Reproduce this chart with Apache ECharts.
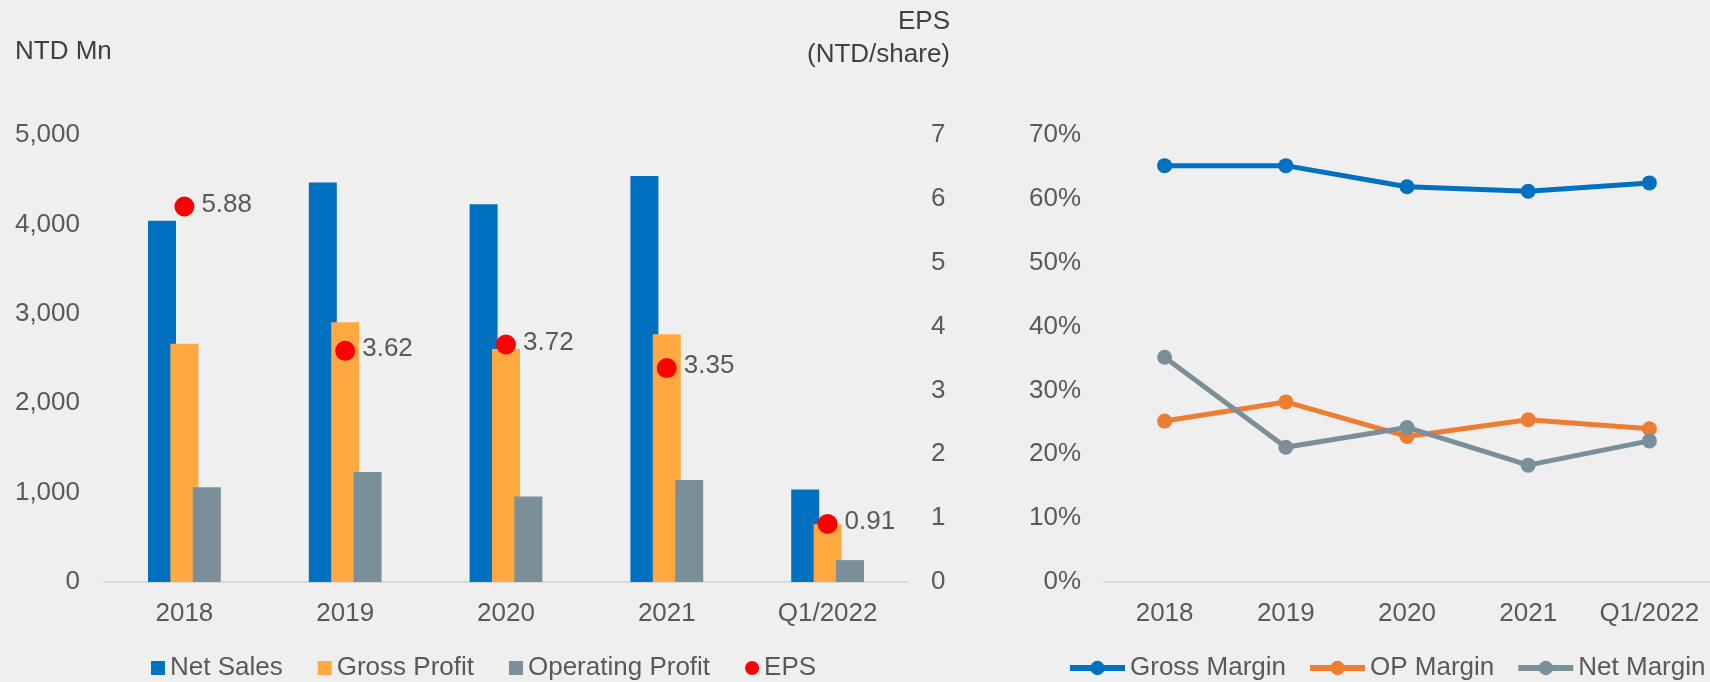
<!DOCTYPE html>
<html>
<head>
<meta charset="utf-8">
<script src="https://cdn.jsdelivr.net/npm/echarts@6/dist/echarts.min.js"></script>
<style>
  html, body { margin: 0; padding: 0; background: #efefef; }
  #main { width: 1710px; height: 682px; }
</style>
</head>
<body>
<div id="main"></div>
<script>
var categories = ['2018', '2019', '2020', '2021', 'Q1/2022'];

// NTD Mn
var netSales = [4040, 4470, 4225, 4540, 1035];
var grossProfit = [2665, 2905, 2605, 2770, 645];
var operatingProfit = [1060, 1230, 955, 1140, 245];
// NTD/share
var eps = [5.88, 3.62, 3.72, 3.35, 0.91];

// margins, %
var grossMargin = [65.2, 65.2, 61.9, 61.2, 62.5];
var opMargin = [25.2, 28.2, 22.8, 25.4, 24.0];
var netMargin = [35.2, 21.1, 24.2, 18.3, 22.1];

var leftTicks = { min: 0, max: 5000, step: 1000 };
var epsTicks = { min: 0, max: 7, step: 1 };
var pctTicks = { min: 0, max: 70, step: 10 };

var FONT = '"Liberation Sans", Arial, sans-serif';
var LABEL = '#595959';
var TITLE = '#404040';

var chartDom = document.getElementById('main');
var myChart = echarts.init(chartDom);
var option;

var axisLabel = { color: LABEL, fontSize: 26, fontFamily: FONT };

option = {
  backgroundColor: '#efefef',
  textStyle: { fontFamily: FONT },
  animation: false,
  grid: [
    { left: 104, right: 802, top: 135, bottom: 100 },
    { left: 1104, right: -9, top: 135, bottom: 100 }
  ],
  graphic: [
    { type: 'text', x: 15, y: 52, style: { text: 'NTD Mn', fill: TITLE, font: '26px ' + FONT, align: 'left', verticalAlign: 'middle' } },
    { type: 'text', x: 950, y: 22, style: { text: 'EPS', fill: TITLE, font: '26px ' + FONT, align: 'right', verticalAlign: 'middle' } },
    { type: 'text', x: 950, y: 55, style: { text: '(NTD/share)', fill: TITLE, font: '26px ' + FONT, align: 'right', verticalAlign: 'middle' } }
  ],
  legend: [
    {
      left: 151, top: 654, padding: 0, width: 800,
      itemWidth: 14, itemHeight: 14, itemGap: 35,
      textStyle: { color: LABEL, fontSize: 26, fontFamily: FONT, lineHeight: 28 },
      data: [
        { name: 'Net Sales', icon: 'rect' },
        { name: 'Gross Profit', icon: 'rect' },
        { name: 'Operating Profit', icon: 'rect' },
        { name: 'EPS', icon: 'circle', itemStyle: { color: '#ff0000' } }
      ]
    },
    {
      left: 1067, top: 654, padding: 0, width: 700,
      itemWidth: 55, itemHeight: 18, itemGap: 21,
      lineStyle: { width: 6 },
      textStyle: { color: LABEL, fontSize: 26, fontFamily: FONT, lineHeight: 28 },
      data: ['Gross Margin', 'OP Margin', 'Net Margin']
    }
  ],
  xAxis: [
    {
      gridIndex: 0, type: 'category', data: categories,
      axisTick: { show: false },
      axisLine: { lineStyle: { color: '#d9d9d9', width: 2 } },
      axisLabel: Object.assign({ margin: 19, lineHeight: 26, interval: 0 }, axisLabel)
    },
    {
      gridIndex: 1, type: 'category', data: categories,
      axisTick: { show: false },
      axisLine: { lineStyle: { color: '#d9d9d9', width: 2 } },
      axisLabel: Object.assign({ margin: 19, lineHeight: 26, interval: 0, hideOverlap: false }, axisLabel)
    }
  ],
  yAxis: [
    {
      gridIndex: 0, type: 'value',
      min: leftTicks.min, max: leftTicks.max, interval: leftTicks.step,
      splitLine: { show: false },
      axisLine: { show: false }, axisTick: { show: false },
      axisLabel: Object.assign({
        margin: 24,
        formatter: function (v) { return v.toLocaleString('en-US'); }
      }, axisLabel)
    },
    {
      gridIndex: 0, type: 'value', position: 'right',
      min: epsTicks.min, max: epsTicks.max, interval: epsTicks.step,
      splitLine: { show: false },
      axisLine: { show: false }, axisTick: { show: false },
      axisLabel: Object.assign({ margin: 23 }, axisLabel)
    },
    {
      gridIndex: 1, type: 'value',
      min: pctTicks.min, max: pctTicks.max, interval: pctTicks.step,
      splitLine: { show: false },
      axisLine: { show: false }, axisTick: { show: false },
      axisLabel: Object.assign({ margin: 23, formatter: '{value}%' }, axisLabel)
    }
  ],
  series: [
    {
      name: 'Net Sales', type: 'bar', xAxisIndex: 0, yAxisIndex: 0,
      data: netSales, barWidth: 28, barGap: '-20%',
      itemStyle: { color: '#0070c0' }
    },
    {
      name: 'Gross Profit', type: 'bar', xAxisIndex: 0, yAxisIndex: 0,
      data: grossProfit, barWidth: 28, barGap: '-20%',
      itemStyle: { color: '#ffa940' }
    },
    {
      name: 'Operating Profit', type: 'bar', xAxisIndex: 0, yAxisIndex: 0,
      data: operatingProfit, barWidth: 28, barGap: '-20%',
      itemStyle: { color: '#7a8f99' }
    },
    {
      name: 'EPS', type: 'scatter', xAxisIndex: 0, yAxisIndex: 1,
      data: eps, symbolSize: 20, z: 5,
      itemStyle: { color: '#ff0000', opacity: 1 },
      label: {
        show: true, position: 'right', distance: 7, offset: [0, -2],
        color: LABEL, fontSize: 26, fontFamily: FONT,
        formatter: function (p) { return p.value.toFixed(2); }
      }
    },
    {
      name: 'Gross Margin', type: 'line', xAxisIndex: 1, yAxisIndex: 2,
      data: grossMargin, symbol: 'circle', symbolSize: 15,
      lineStyle: { color: '#0070c0', width: 5 },
      itemStyle: { color: '#0070c0' }
    },
    {
      name: 'OP Margin', type: 'line', xAxisIndex: 1, yAxisIndex: 2,
      data: opMargin, symbol: 'circle', symbolSize: 15,
      lineStyle: { color: '#ed7d31', width: 5 },
      itemStyle: { color: '#ed7d31' }
    },
    {
      name: 'Net Margin', type: 'line', xAxisIndex: 1, yAxisIndex: 2,
      data: netMargin, symbol: 'circle', symbolSize: 15,
      lineStyle: { color: '#7a8f99', width: 5 },
      itemStyle: { color: '#7a8f99' }
    }
  ]
};

option && myChart.setOption(option);
</script>
</body>
</html>
